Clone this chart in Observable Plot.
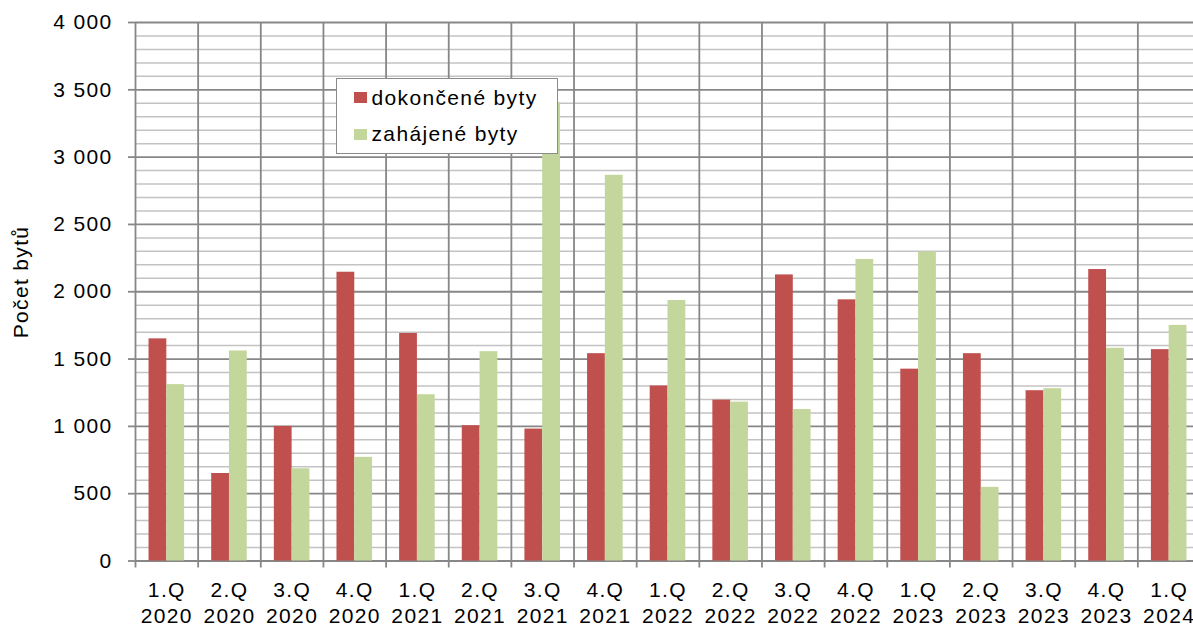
<!DOCTYPE html>
<html>
<head>
<meta charset="utf-8">
<script src="https://cdn.jsdelivr.net/npm/d3@7"></script>
<script src="https://cdn.jsdelivr.net/npm/@observablehq/plot@0.6"></script>
<style>
  html, body { margin: 0; padding: 0; background: #fff; overflow: hidden; }
  #wrap { position: relative; width: 1193px; height: 625px; overflow: hidden; }
  #wrap svg { max-width: none !important; display: block; }
  .lg { position: absolute; font-family: "Liberation Sans", Arial, sans-serif; font-size: 21px; letter-spacing: 1.35px; line-height: 21px; color: #000; white-space: nowrap; }
</style>
</head>
<body>
<div id="wrap"></div>
<script>
// ---- data ----
const quarters = [
  "1.Q 2020", "2.Q 2020", "3.Q 2020", "4.Q 2020",
  "1.Q 2021", "2.Q 2021", "3.Q 2021", "4.Q 2021",
  "1.Q 2022", "2.Q 2022", "3.Q 2022", "4.Q 2022",
  "1.Q 2023", "2.Q 2023", "3.Q 2023", "4.Q 2023",
  "1.Q 2024"
];
const seriesNames = ["dokončené byty", "zahájené byty"];
const seriesColors = ["#C0504D", "#C3D69B"];
const completed = [1650, 650, 1000, 2145, 1690, 1005, 980, 1540, 1300, 1195, 2125, 1940, 1425, 1540, 1265, 2165, 1570];
const started   = [1310, 1560, 685, 770, 1235, 1555, 3405, 2865, 1935, 1180, 1125, 2240, 2295, 547, 1280, 1580, 1750];
const yTicks = [0, 500, 1000, 1500, 2000, 2500, 3000, 3500, 4000];
const yTitle = "Počet bytů";

// ---- layout ----
const W = 1200, H = 625, mL = 135, mR = 0, mT = 22, mB = 64.5;
const bw = (W - mL - mR) / quarters.length;
const outerGap = 0.216;             // fraction of band left empty on each side
const tickLen = 7;
const unitsPerPx = (yTicks[yTicks.length - 1] - yTicks[0]) / (H - mT - mB);

const rows = [];
quarters.forEach((q, i) => {
  rows.push({quarter: q, series: seriesNames[0], value: completed[i]});
  rows.push({quarter: q, series: seriesNames[1], value: started[i]});
});
const minorTicks = d3.range(0, 4001, 100).filter(v => v % 500 !== 0);
const fmt = d => d3.format(",")(d).replace(/,/g, " ");

const chart = Plot.plot({
  width: W, height: H,
  marginLeft: mL, marginRight: mR, marginTop: mT, marginBottom: mB,
  style: {fontFamily: "'Liberation Sans', Arial, sans-serif", fontSize: "21px", letterSpacing: "1.35px", color: "#000", background: "#fff"},
  x: {type: "band", domain: quarters, paddingInner: 0, paddingOuter: 0, round: false, axis: null},
  y: {domain: [0, 4000], axis: null},
  color: {domain: seriesNames, range: seriesColors},
  marks: [
    Plot.ruleY(minorTicks, {stroke: "#c3c3c3", strokeWidth: 1.5}),
    Plot.ruleY(yTicks, {stroke: "#878787", strokeWidth: 1.8}),
    Plot.ruleX(quarters, {x: d => d, dx: -bw / 2, y1: -tickLen * unitsPerPx, y2: 4000, stroke: "#878787", strokeWidth: 1.8}),
    Plot.barY(rows.filter(r => r.series === seriesNames[0]), {
      x: "quarter", y: "value", fill: "series",
      insetLeft: outerGap * bw, insetRight: 0.5 * bw
    }),
    Plot.barY(rows.filter(r => r.series === seriesNames[1]), {
      x: "quarter", y: "value", fill: "series",
      insetLeft: 0.5 * bw, insetRight: outerGap * bw
    }),
    Plot.axisY({ticks: yTicks, tickSize: tickLen, tickPadding: 16, tickFormat: fmt,
      stroke: "#878787", strokeWidth: 1.8, fill: "#000", label: null}),
    Plot.text(quarters, {x: d => d, y: 0, text: d => d.replace(" ", "\n"),
      lineAnchor: "top", dy: 17, lineHeight: 1.25, fill: "#000"}),
    Plot.text([yTitle], {frameAnchor: "left", text: d => d, rotate: -90, textAnchor: "middle",
      dx: -114, dy: -9.75, fill: "#000", letterSpacing: 0.5})
  ]
});

const wrap = document.getElementById("wrap");
wrap.appendChild(chart);

// ---- legend (HTML overlay inside plot area) ----
const box = document.createElement("div");
Object.assign(box.style, {position: "absolute", left: "335.5px", top: "77.5px", width: "222px", height: "76px",
  boxSizing: "border-box", border: "1.6px solid #8a8a8a", background: "#fff"});
wrap.appendChild(box);
seriesNames.forEach((name, i) => {
  const sw = document.createElement("div");
  Object.assign(sw.style, {position: "absolute", left: "354px", top: (92 + i * 37.3) + "px", width: "13px", height: "11px", background: seriesColors[i]});
  wrap.appendChild(sw);
  const t = document.createElement("div");
  t.className = "lg";
  t.textContent = name;
  Object.assign(t.style, {left: "371.5px", top: (86.5 + i * 36.7) + "px"});
  wrap.appendChild(t);
});
</script>
</body>
</html>
